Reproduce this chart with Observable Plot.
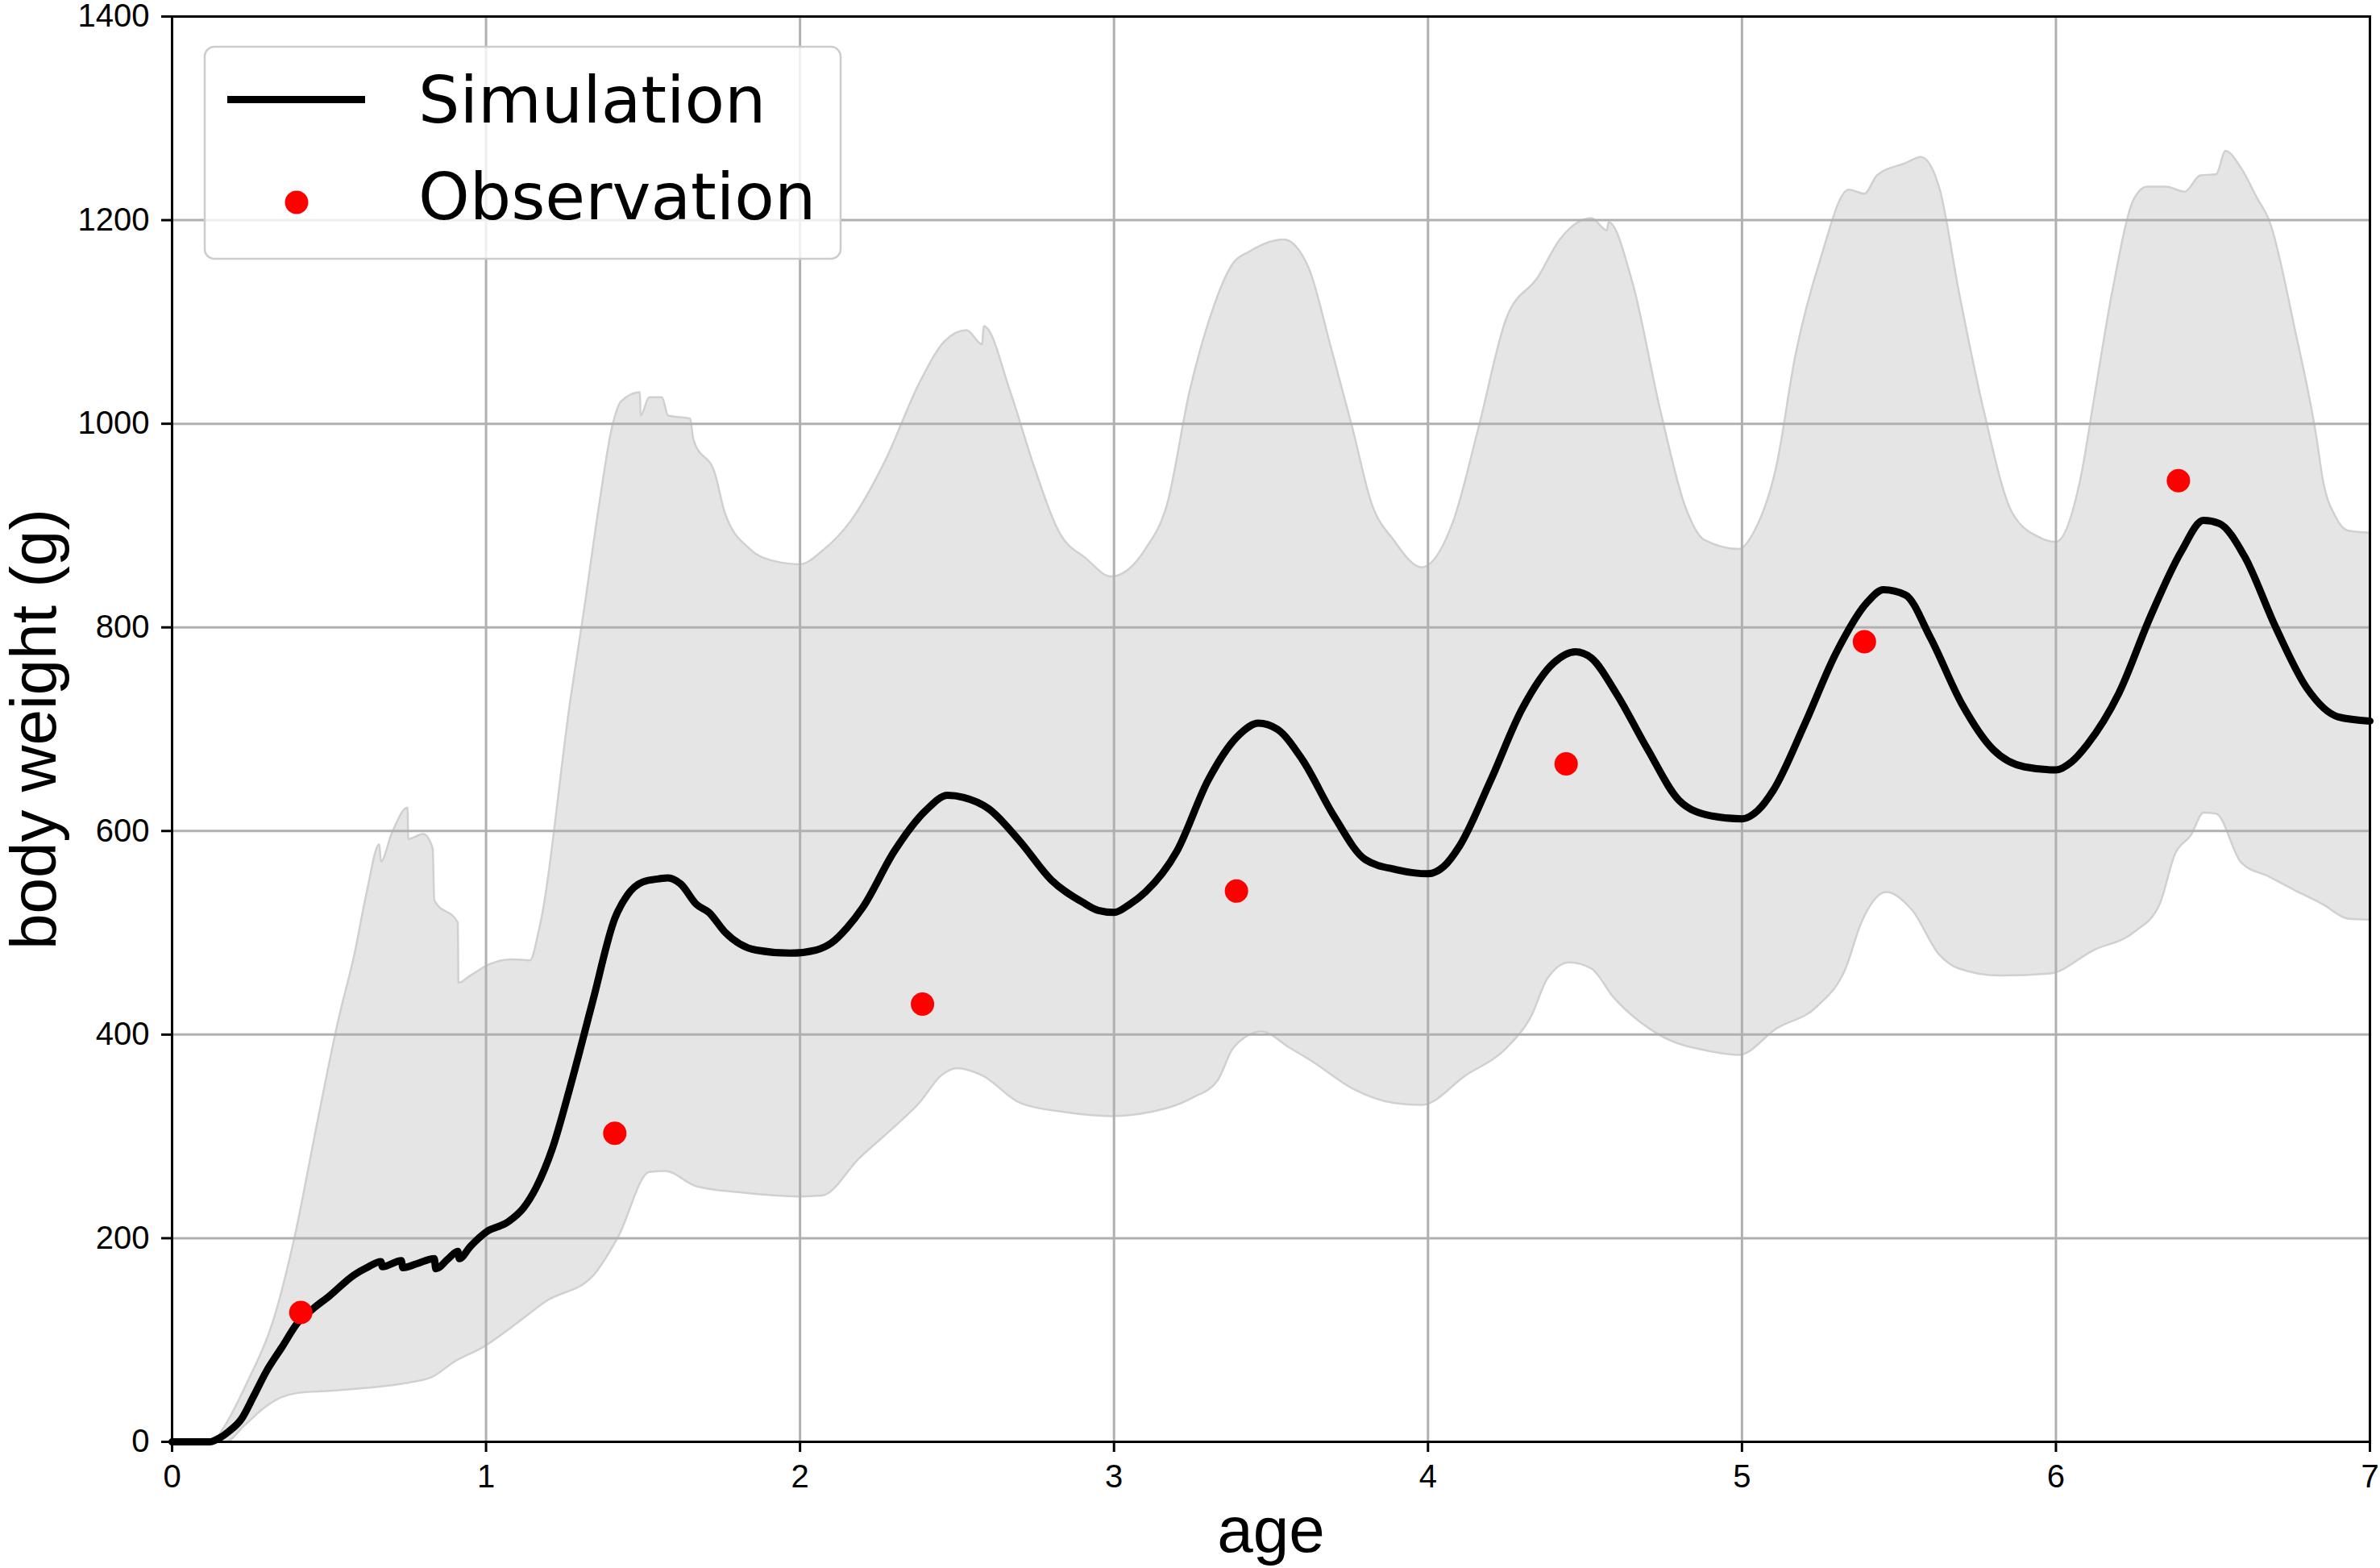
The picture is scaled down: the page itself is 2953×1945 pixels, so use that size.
<!DOCTYPE html>
<html>
<head>
<meta charset="utf-8">
<script src="https://cdn.jsdelivr.net/npm/d3@7"></script>
<script src="https://cdn.jsdelivr.net/npm/@observablehq/plot@0.6"></script>
<style>
  html, body { margin: 0; padding: 0; background: white; }
</style>
</head>
<body>
<div id="chart"></div>
<script>
// ---- Data ----
const xTicks = [0, 1, 2, 3, 4, 5, 6, 7];
const yTicks = [0, 200, 400, 600, 800, 1000, 1200, 1400];

// Simulation (mean) line
const simAge = [0, 0.12, 0.14, 0.18, 0.22, 0.26, 0.3, 0.35, 0.4, 0.45, 0.5, 0.58, 0.62, 0.665, 0.67, 0.73, 0.735, 0.78, 0.835, 0.84, 0.88, 0.91, 0.915, 0.95, 1.0, 1.07, 1.12, 1.16, 1.21, 1.27, 1.34, 1.41, 1.45, 1.5, 1.55, 1.58, 1.62, 1.67, 1.71, 1.76, 1.86, 1.97, 2.05, 2.1, 2.15, 2.2, 2.3, 2.4, 2.47, 2.52, 2.6, 2.7, 2.8, 2.9, 2.95, 3.0, 3.05, 3.1, 3.2, 3.3, 3.4, 3.46, 3.52, 3.6, 3.7, 3.8, 3.9, 4.0, 4.05, 4.1, 4.2, 4.3, 4.4, 4.47, 4.52, 4.6, 4.7, 4.8, 4.9, 5.0, 5.05, 5.1, 5.2, 5.3, 5.4, 5.45, 5.52, 5.6, 5.7, 5.8, 5.9, 6.0, 6.05, 6.1, 6.2, 6.3, 6.4, 6.47, 6.52, 6.6, 6.7, 6.8, 6.9, 7.0];
const simWeight = [0, 0, 2, 10, 22, 45, 69, 93, 117, 131, 143, 164, 171, 177, 172, 178, 171, 175, 180, 170, 180, 187, 180, 192, 206, 216, 230, 250, 287, 351, 433, 514, 537, 550, 553, 554, 548, 528, 520, 501, 483, 480, 483, 490, 505, 525, 580, 620, 635, 633, 622, 590, 552, 530, 522, 520, 528, 540, 580, 650, 695, 706, 700, 670, 615, 572, 562, 558, 565, 585, 650, 720, 765, 776, 770, 735, 680, 630, 615, 612, 620, 640, 705, 775, 825, 837, 832, 790, 725, 680, 663, 660, 668, 685, 735, 810, 875, 905, 902, 870, 800, 740, 712, 708];

// Upper edge of the simulation band
const upperAge = [0, 0.13, 0.16, 0.24, 0.32, 0.39, 0.46, 0.53, 0.58, 0.62, 0.66, 0.665, 0.7, 0.75, 0.752, 0.8, 0.83, 0.835, 0.91, 0.912, 0.95, 1.01, 1.08, 1.14, 1.17, 1.27, 1.31, 1.36, 1.40, 1.43, 1.49, 1.492, 1.52, 1.56, 1.58, 1.65, 1.66, 1.73, 1.76, 1.84, 1.92, 2.0, 2.07, 2.16, 2.27, 2.38, 2.46, 2.53, 2.58, 2.585, 2.67, 2.74, 2.83, 2.91, 2.99, 3.1, 3.17, 3.24, 3.3, 3.38, 3.43, 3.54, 3.62, 3.69, 3.76, 3.82, 3.89, 3.98, 4.08, 4.16, 4.25, 4.35, 4.42, 4.52, 4.57, 4.575, 4.65, 4.74, 4.82, 4.88, 4.99, 5.04, 5.11, 5.17, 5.25, 5.34, 5.39, 5.43, 5.52, 5.57, 5.63, 5.69, 5.77, 5.86, 5.95, 6.0, 6.08, 6.12, 6.18, 6.25, 6.29, 6.35, 6.41, 6.46, 6.51, 6.54, 6.59, 6.64, 6.68, 6.76, 6.83, 6.85, 6.89, 6.93, 7.0];
const upperWeight = [0, 0, 12, 59, 117, 201, 310, 415, 478, 540, 587, 570, 598, 623, 592, 597, 583, 532, 510, 451, 458, 469, 474, 473, 505, 732, 813, 920, 995, 1022, 1031, 1008, 1026, 1026, 1008, 1005, 985, 950, 913, 877, 865, 862, 875, 904, 963, 1040, 1081, 1092, 1078, 1096, 1031, 963, 891, 868, 850, 877, 922, 1031, 1099, 1158, 1169, 1181, 1153, 1076, 995, 922, 886, 859, 904, 995, 1104, 1144, 1181, 1202, 1190, 1198, 1140, 1013, 918, 886, 877, 895, 959, 1067, 1162, 1230, 1226, 1244, 1256, 1262, 1230, 1131, 1013, 913, 888, 884, 949, 1022, 1131, 1222, 1233, 1233, 1228, 1244, 1245, 1268, 1251, 1222, 1199, 1094, 986, 945, 909, 895, 893];

// Lower edge of the simulation band
const lowerAge = [0, 0.17, 0.23, 0.3, 0.35, 0.4, 0.5, 0.62, 0.75, 0.83, 0.9, 0.99, 1.1, 1.19, 1.34, 1.42, 1.52, 1.57, 1.67, 1.81, 2.0, 2.07, 2.19, 2.32, 2.38, 2.45, 2.5, 2.58, 2.7, 2.84, 2.99, 3.17, 3.25, 3.33, 3.38, 3.47, 3.56, 3.63, 3.76, 3.89, 3.98, 4.12, 4.25, 4.33, 4.38, 4.45, 4.52, 4.59, 4.73, 4.91, 4.99, 5.11, 5.24, 5.33, 5.38, 5.46, 5.54, 5.63, 5.69, 5.82, 5.98, 6.12, 6.25, 6.33, 6.38, 6.43, 6.47, 6.51, 6.59, 6.68, 6.76, 6.85, 6.93, 7.0];
const lowerWeight = [0, 0, 16, 35, 44, 48, 50, 53, 58, 64, 79, 93, 117, 138, 163, 201, 265, 266, 251, 245, 241, 242, 279, 315, 333, 360, 367, 360, 333, 324, 320, 328, 338, 355, 387, 403, 387, 374, 347, 333, 331, 360, 387, 419, 455, 471, 465, 437, 401, 383, 380, 406, 428, 465, 510, 540, 523, 478, 465, 458, 460, 483, 501, 528, 578, 596, 618, 617, 569, 555, 542, 528, 514, 513];

// Observations
const obsAge = [0.41, 1.41, 2.39, 3.39, 4.44, 5.39, 6.39];
const obsWeight = [127, 303, 430, 541, 666, 786, 944];

// ---- Tables built from the arrays ----
const sim = simAge.map((a, i) => ({age: a, w: simWeight[i]}));
const obs = obsAge.map((a, i) => ({age: a, w: obsWeight[i]}));
const upper = upperAge.map((a, i) => ({age: a, w: upperWeight[i]}));
const lower = lowerAge.map((a, i) => ({age: a, w: lowerWeight[i]}));

const bandFill = "#e5e5e5";
const bandEdge = "#d0d0d0";
const gridColor = "#b0b0b0";

const chart = Plot.plot({
  width: 2953,
  height: 1945,
  marginLeft: 213,
  marginRight: 13,
  marginTop: 20,
  marginBottom: 157,
  style: {fontFamily: "'Liberation Sans', Arial, sans-serif", background: "white", color: "black"},
  x: {domain: [0, 7]},
  y: {domain: [0, 1400]},
  marks: [
    // band: area up to the upper edge, then the part below the lower edge cleared
    Plot.areaY(upper, {x: "age", y: "w", fill: bandFill, curve: "monotone-x"}),
    Plot.areaY(lower, {x: "age", y: "w", fill: "white", curve: "monotone-x"}),
    Plot.lineY(upper, {x: "age", y: "w", stroke: bandEdge, strokeWidth: 2.5, curve: "monotone-x"}),
    Plot.lineY(lower, {x: "age", y: "w", stroke: bandEdge, strokeWidth: 2.5, curve: "monotone-x"}),
    Plot.gridX(xTicks, {stroke: gridColor, strokeOpacity: 1, strokeWidth: 3}),
    Plot.gridY(yTicks, {stroke: gridColor, strokeOpacity: 1, strokeWidth: 3}),
    Plot.line(sim, {x: "age", y: "w", stroke: "black", strokeWidth: 9, strokeLinejoin: "round", strokeLinecap: "round", curve: "monotone-x"}),
    Plot.dot(obs, {x: "age", y: "w", r: 14.5, fill: "red", stroke: "none"}),
    Plot.frame({stroke: "black", strokeWidth: 3}),
    Plot.axisX(xTicks, {tickSize: 13, tickPadding: 15, fontSize: 40, strokeWidth: 3, label: null, tickFormat: d => String(d)}),
    Plot.axisY(yTicks, {tickSize: 13, tickPadding: 15, fontSize: 40, strokeWidth: 3, label: null, tickFormat: d => String(d)}),
    Plot.text(["age"], {frameAnchor: "bottom", textAnchor: "middle", lineAnchor: "bottom", dy: 136, fontSize: 80}),
    Plot.text(["body weight (g)"], {frameAnchor: "left", textAnchor: "middle", lineAnchor: "bottom", rotate: -90, dx: -145, fontSize: 80})
  ]
});

document.getElementById("chart").appendChild(chart);

// ---- Legend (inside the plot area, top left) ----
const svg = d3.select(chart);
const lg = svg.append("g").attr("class", "legend");
lg.append("rect")
  .attr("x", 254).attr("y", 58).attr("width", 789).attr("height", 263)
  .attr("rx", 12).attr("ry", 12)
  .attr("fill", "white").attr("fill-opacity", 0.8)
  .attr("stroke", "#cccccc").attr("stroke-width", 2.5);
lg.append("line")
  .attr("x1", 282).attr("x2", 453).attr("y1", 123.5).attr("y2", 123.5)
  .attr("stroke", "black").attr("stroke-width", 9);
lg.append("circle")
  .attr("cx", 368).attr("cy", 251).attr("r", 14.5).attr("fill", "red");
const legendLabels = ["Simulation", "Observation"];
const legendBaselines = [152, 272];
legendLabels.forEach((t, i) => {
  lg.append("text")
    .attr("x", 519).attr("y", legendBaselines[i])
    .attr("text-anchor", "start")
    .attr("font-family", "'DejaVu Sans', sans-serif")
    .attr("font-size", 81)
    .attr("fill", "black")
    .text(t);
});
</script>
</body>
</html>
